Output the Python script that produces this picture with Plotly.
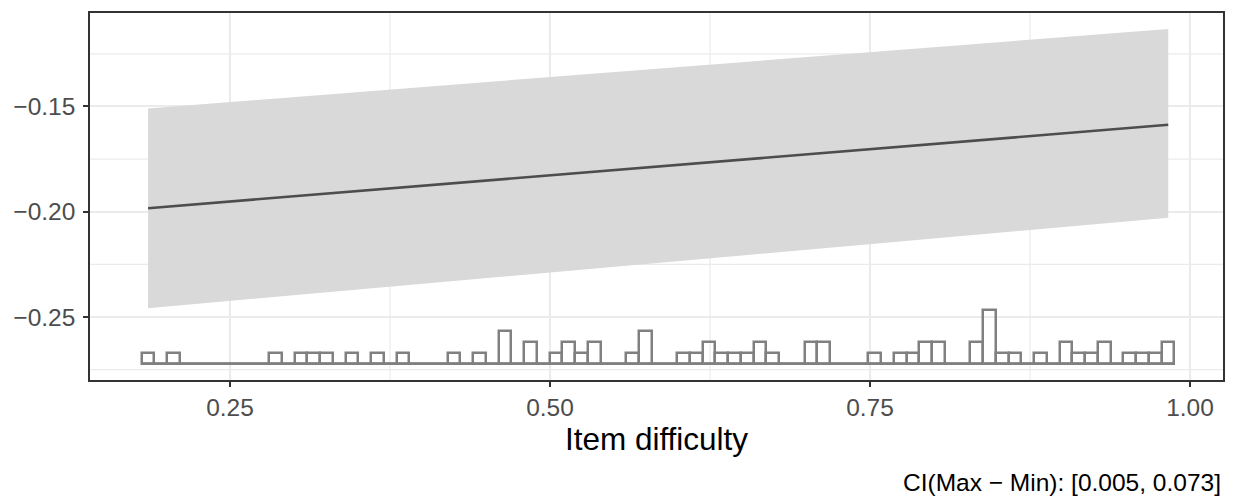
import plotly.graph_objects as go

# ---- data ----
fit_x = [0.186, 0.983]
fit_y = [-0.1983, -0.1587]
ci_upper = [-0.1509, -0.1132]
ci_lower = [-0.2458, -0.2028]

hist_start = 0.1810          # left edge of first bin
hist_binwidth = 0.00996
hist_counts = [1, 0, 1, 0, 0, 0, 0, 0, 0, 0,
               1, 0, 1, 1, 1, 0, 1, 0, 1, 0,
               1, 0, 0, 0, 1, 0, 1, 0, 3, 0,
               2, 0, 1, 2, 1, 2, 0, 0, 1, 3,
               0, 0, 1, 1, 2, 1, 1, 1, 2, 1,
               0, 0, 2, 2, 0, 0, 0, 1, 0, 1,
               1, 2, 2, 0, 0, 2, 5, 1, 1, 0,
               1, 0, 2, 1, 1, 2, 0, 1, 1, 1,
               2]

x_ticks = [0.25, 0.50, 0.75, 1.00]
x_ticklabels = ["0.25", "0.50", "0.75", "1.00"]
y_ticks = [-0.15, -0.20, -0.25]
y_ticklabels = ["\u22120.15", "\u22120.20", "\u22120.25"]
x_minor = [0.375, 0.625, 0.875]
y_minor = [-0.125, -0.175, -0.225, -0.275]

x_title = "Item difficulty"
caption = "CI(Max \u2212 Min): [0.005, 0.073]"

# ---- figure ----
FONT = "Liberation Sans, Arial, sans-serif"
fig = go.Figure()

# ribbon
fig.add_trace(go.Scatter(
    x=fit_x + fit_x[::-1], y=ci_upper + ci_lower[::-1],
    fill="toself", fillcolor="#D9D9D9", line=dict(width=0),
    mode="lines", hoverinfo="skip", showlegend=False))

# fit line
fig.add_trace(go.Scatter(
    x=fit_x, y=fit_y, mode="lines",
    line=dict(color="#4D4D4D", width=2.6), showlegend=False))

# histogram as outlined bars on secondary axis
centers = [hist_start + hist_binwidth * (i + 0.5) for i in range(len(hist_counts))]
fig.add_trace(go.Bar(
    x=centers, y=hist_counts, width=hist_binwidth,
    marker=dict(color="rgba(0,0,0,0)", line=dict(color="#808080", width=2.5)),
    yaxis="y2", showlegend=False))
# baseline of empty bins
fig.add_trace(go.Scatter(
    x=[hist_start, hist_start + hist_binwidth * len(hist_counts)], y=[0, 0],
    mode="lines", line=dict(color="#808080", width=2.5),
    yaxis="y2", showlegend=False))

grid_major = "#EBEBEB"
shapes = []
for xv in x_minor:
    shapes.append(dict(type="line", xref="x", yref="paper", x0=xv, x1=xv, y0=0, y1=1,
                       line=dict(color=grid_major, width=1.2), layer="below"))
for yv in y_minor:
    shapes.append(dict(type="line", xref="paper", yref="y", x0=0, x1=1, y0=yv, y1=yv,
                       line=dict(color=grid_major, width=1.2), layer="below"))

fig.update_layout(
    width=1239, height=502,
    margin=dict(l=82, r=24, t=3, b=130),
    plot_bgcolor="white", paper_bgcolor="white",
    font=dict(family=FONT),
    bargap=0,
    shapes=shapes,
    xaxis=dict(
        range=[0.140625, 1.02578],
        tickvals=x_ticks, ticktext=x_ticklabels,
        showgrid=True, gridcolor=grid_major, gridwidth=2.2,
        ticks="outside", ticklen=5, tickwidth=2, tickcolor="#333333",
        tickfont=dict(size=24.5, color="#4D4D4D", family=FONT),
        showline=True, linecolor="#333333", linewidth=1.5, mirror=True,
        zeroline=False,
        title=dict(text=x_title, font=dict(size=31.5, color="black", family=FONT), standoff=6),
    ),
    yaxis=dict(
        range=[-0.2799, -0.1056],
        tickvals=y_ticks, ticktext=y_ticklabels,
        showgrid=True, gridcolor=grid_major, gridwidth=2.2,
        ticks="outside", ticklen=5, tickwidth=2, tickcolor="#333333",
        tickfont=dict(size=24.5, color="#4D4D4D", family=FONT),
        ticklabelstandoff=3,
        showline=True, linecolor="#333333", linewidth=1.5, mirror=True,
        zeroline=False,
    ),
    yaxis2=dict(
        overlaying="y", range=[-1.528, 32.64], visible=False,
        showgrid=False, zeroline=False,
    ),
    annotations=[dict(
        text=caption, xref="paper", yref="paper", x=1, y=0,
        xanchor="right", yanchor="middle", yshift=-102, showarrow=False,
        font=dict(size=24.5, color="black", family=FONT))],
)

fig.write_html("out.html")
